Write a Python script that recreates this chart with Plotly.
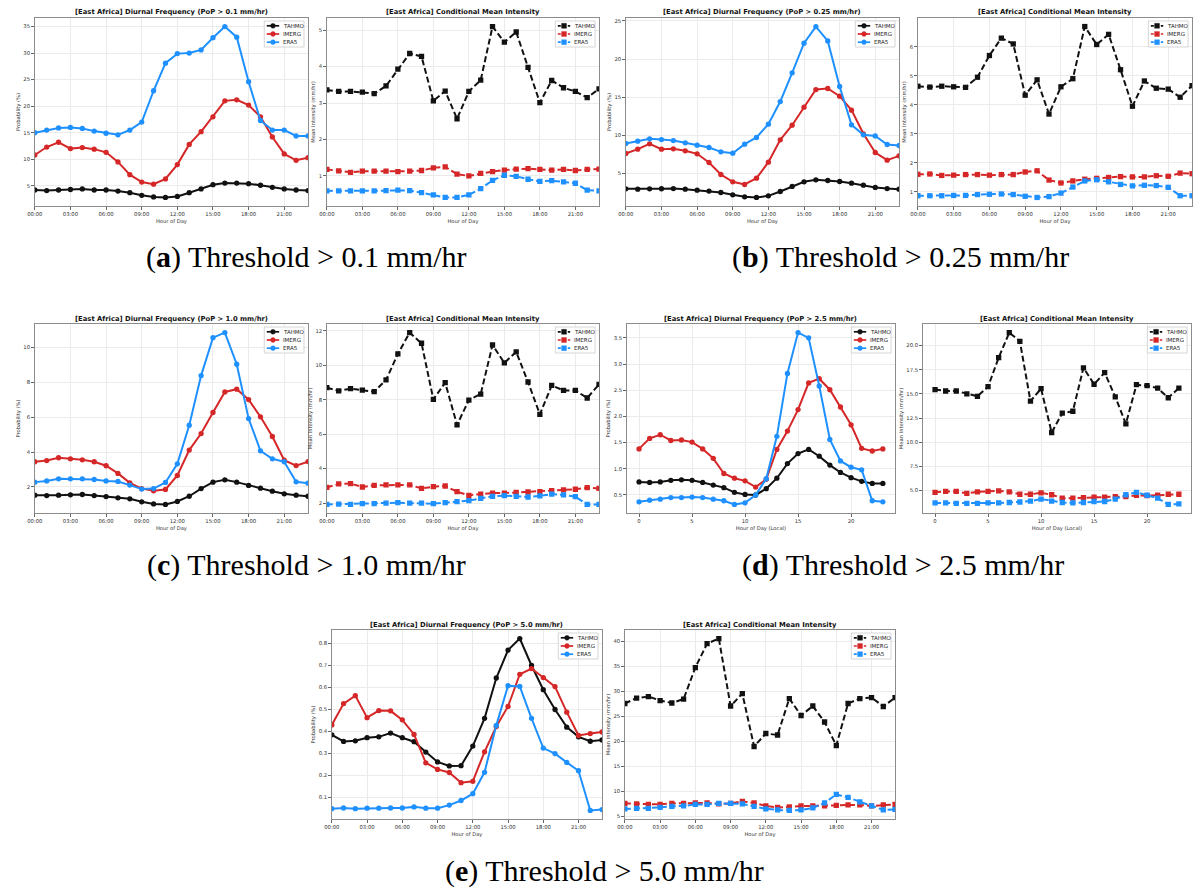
import plotly.graph_objects as go

W, H = 1200, 894
HOURS = list(range(24))
SOURCES = ["TAHMO", "IMERG", "ERA5"]
COLORS = ["#111111", "#d62728", "#1e90ff"]
CLOCK_TICKS = [0, 3, 6, 9, 12, 15, 18, 21]
CLOCK_LABELS = ["00:00", "03:00", "06:00", "09:00", "12:00", "15:00", "18:00", "21:00"]
NUM_TICKS = [0, 5, 10, 15, 20]

# ---------------- (a) threshold > 0.1 mm/hr ----------------
a_freq_tahmo = [4.2, 4.1, 4.2, 4.3, 4.4, 4.2, 4.2, 4.0, 3.7, 3.2, 2.9, 2.8, 3.0, 3.7, 4.4, 5.2, 5.5, 5.5, 5.4, 5.1, 4.7, 4.4, 4.2, 4.1]
a_freq_imerg = [10.8, 12.3, 13.2, 12.0, 12.2, 11.9, 11.3, 9.5, 7.1, 5.7, 5.3, 6.3, 9.0, 12.8, 15.2, 18.0, 21.0, 21.2, 20.2, 18.0, 14.2, 11.0, 9.8, 10.3]
a_freq_era5 = [15.0, 15.5, 15.9, 16.0, 15.8, 15.3, 14.9, 14.6, 15.5, 17.0, 22.9, 28.1, 29.9, 30.0, 30.6, 32.9, 35.0, 33.0, 24.6, 17.3, 15.5, 15.5, 14.4, 14.4]
a_int_tahmo = [3.36, 3.32, 3.32, 3.30, 3.26, 3.47, 3.93, 4.36, 4.28, 3.06, 3.33, 2.57, 3.32, 3.63, 5.10, 4.67, 4.95, 3.98, 3.01, 3.62, 3.42, 3.32, 3.15, 3.39]
a_int_imerg = [1.18, 1.14, 1.10, 1.13, 1.13, 1.13, 1.12, 1.13, 1.15, 1.22, 1.25, 1.05, 1.00, 1.07, 1.12, 1.16, 1.19, 1.20, 1.18, 1.16, 1.18, 1.15, 1.18, 1.19]
a_int_era5 = [0.59, 0.59, 0.59, 0.59, 0.59, 0.60, 0.61, 0.60, 0.54, 0.48, 0.41, 0.41, 0.48, 0.65, 0.88, 1.02, 0.99, 0.91, 0.85, 0.87, 0.84, 0.80, 0.61, 0.59]

# ---------------- (b) threshold > 0.25 mm/hr ----------------
b_freq_tahmo = [2.99, 2.95, 2.99, 3.00, 3.03, 2.95, 2.82, 2.69, 2.51, 2.21, 1.94, 1.86, 2.07, 2.64, 3.30, 3.91, 4.17, 4.08, 3.95, 3.73, 3.47, 3.17, 3.03, 2.95]
b_freq_imerg = [7.62, 8.19, 8.89, 8.19, 8.23, 7.97, 7.58, 6.44, 4.87, 3.91, 3.56, 4.39, 6.48, 9.41, 11.33, 13.69, 16.00, 16.14, 15.13, 13.30, 10.20, 7.75, 6.75, 7.31]
b_freq_era5 = [8.93, 9.24, 9.54, 9.45, 9.32, 9.02, 8.71, 8.41, 7.84, 7.66, 8.84, 9.72, 11.46, 14.43, 18.19, 22.07, 24.26, 22.38, 16.40, 11.38, 10.07, 9.93, 8.80, 8.67]
b_int_tahmo = [4.64, 4.61, 4.64, 4.62, 4.60, 4.95, 5.70, 6.30, 6.10, 4.33, 4.86, 3.68, 4.62, 4.90, 6.70, 6.08, 6.43, 5.21, 3.95, 4.82, 4.57, 4.54, 4.26, 4.66]
b_int_imerg = [1.60, 1.61, 1.56, 1.57, 1.59, 1.59, 1.57, 1.59, 1.59, 1.68, 1.72, 1.40, 1.30, 1.37, 1.43, 1.46, 1.49, 1.52, 1.51, 1.51, 1.55, 1.53, 1.64, 1.62]
b_int_era5 = [0.86, 0.86, 0.86, 0.87, 0.87, 0.90, 0.91, 0.92, 0.90, 0.84, 0.80, 0.83, 0.95, 1.16, 1.37, 1.41, 1.34, 1.25, 1.20, 1.22, 1.21, 1.15, 0.86, 0.86]

# ---------------- (c) threshold > 1.0 mm/hr ----------------
c_freq_tahmo = [1.52, 1.50, 1.52, 1.54, 1.56, 1.50, 1.44, 1.37, 1.31, 1.14, 1.02, 0.99, 1.16, 1.46, 1.90, 2.27, 2.40, 2.27, 2.08, 1.92, 1.75, 1.60, 1.52, 1.46]
c_freq_imerg = [3.44, 3.51, 3.67, 3.61, 3.55, 3.44, 3.21, 2.77, 2.23, 1.90, 1.77, 1.85, 2.65, 4.11, 5.06, 6.27, 7.45, 7.61, 7.01, 6.02, 4.89, 3.53, 3.22, 3.45]
c_freq_era5 = [2.27, 2.34, 2.46, 2.46, 2.46, 2.42, 2.34, 2.31, 2.10, 1.87, 1.90, 2.25, 3.32, 5.54, 8.39, 10.57, 10.86, 9.04, 5.92, 4.07, 3.61, 3.44, 2.29, 2.21]
c_int_tahmo = [8.70, 8.52, 8.64, 8.56, 8.47, 9.15, 10.66, 11.90, 11.28, 8.02, 8.99, 6.54, 7.98, 8.33, 11.18, 10.14, 10.78, 9.03, 7.15, 8.83, 8.54, 8.54, 8.10, 8.89]
c_int_imerg = [2.91, 3.11, 3.13, 2.93, 3.03, 3.05, 3.05, 3.05, 2.85, 2.95, 2.99, 2.66, 2.45, 2.52, 2.58, 2.58, 2.62, 2.64, 2.66, 2.72, 2.76, 2.80, 2.89, 2.85]
c_int_era5 = [1.92, 1.94, 1.92, 1.96, 1.96, 2.00, 2.02, 2.00, 2.00, 1.96, 2.02, 2.08, 2.14, 2.27, 2.39, 2.43, 2.39, 2.35, 2.41, 2.52, 2.47, 2.37, 1.92, 1.92]

# ---------------- (d) threshold > 2.5 mm/hr ----------------
d_freq_tahmo = [0.75, 0.74, 0.75, 0.78, 0.79, 0.78, 0.74, 0.69, 0.64, 0.55, 0.51, 0.50, 0.62, 0.82, 1.10, 1.29, 1.37, 1.24, 1.07, 0.93, 0.83, 0.76, 0.72, 0.72]
d_freq_imerg = [1.38, 1.58, 1.65, 1.54, 1.55, 1.51, 1.38, 1.20, 0.91, 0.82, 0.77, 0.65, 0.80, 1.37, 1.72, 2.13, 2.64, 2.72, 2.51, 2.18, 1.84, 1.39, 1.34, 1.38]
d_freq_era5 = [0.37, 0.40, 0.42, 0.45, 0.45, 0.46, 0.45, 0.42, 0.39, 0.32, 0.35, 0.50, 0.81, 1.62, 2.82, 3.60, 3.50, 2.58, 1.56, 1.15, 1.03, 0.98, 0.39, 0.37]
d_int_tahmo = [15.45, 15.30, 15.30, 15.00, 14.75, 15.75, 18.75, 21.35, 20.45, 14.25, 15.55, 11.00, 13.00, 13.20, 17.70, 16.00, 17.20, 14.70, 11.90, 15.95, 15.85, 15.60, 14.60, 15.60]
d_int_imerg = [4.80, 4.90, 4.90, 4.70, 4.85, 4.90, 4.95, 4.85, 4.60, 4.60, 4.75, 4.55, 4.20, 4.20, 4.25, 4.30, 4.30, 4.35, 4.35, 4.50, 4.45, 4.50, 4.60, 4.60]
d_int_era5 = [3.70, 3.70, 3.65, 3.65, 3.65, 3.70, 3.70, 3.75, 3.80, 3.90, 4.10, 3.90, 3.75, 3.70, 3.75, 3.85, 3.85, 4.10, 4.55, 4.80, 4.50, 4.20, 3.55, 3.60]

# ---------------- (e) threshold > 5.0 mm/hr ----------------
e_freq_tahmo = [0.385, 0.355, 0.358, 0.372, 0.376, 0.393, 0.372, 0.354, 0.307, 0.262, 0.244, 0.245, 0.334, 0.460, 0.643, 0.770, 0.822, 0.700, 0.590, 0.500, 0.420, 0.376, 0.356, 0.362]
e_freq_imerg = [0.430, 0.527, 0.563, 0.463, 0.495, 0.494, 0.453, 0.387, 0.258, 0.228, 0.214, 0.168, 0.174, 0.308, 0.423, 0.514, 0.660, 0.686, 0.645, 0.604, 0.488, 0.382, 0.391, 0.398]
e_freq_era5 = [0.050, 0.053, 0.050, 0.052, 0.052, 0.053, 0.053, 0.058, 0.052, 0.052, 0.066, 0.087, 0.118, 0.215, 0.428, 0.608, 0.605, 0.460, 0.325, 0.300, 0.260, 0.222, 0.042, 0.046]
e_int_tahmo = [27.6, 28.7, 29.0, 28.2, 27.7, 28.5, 34.8, 39.6, 40.6, 27.1, 29.6, 19.0, 21.6, 21.3, 28.6, 25.2, 27.1, 23.9, 19.2, 27.6, 28.6, 28.8, 27.0, 28.8]
e_int_imerg = [7.6, 7.5, 7.4, 7.4, 7.6, 7.6, 7.7, 7.7, 7.5, 7.6, 8.0, 7.7, 7.1, 6.8, 6.9, 7.1, 7.1, 7.1, 7.2, 7.3, 7.3, 7.1, 7.3, 7.4]
e_int_era5 = [6.5, 6.6, 6.6, 6.8, 7.0, 7.1, 7.4, 7.4, 7.6, 7.6, 7.5, 7.0, 6.5, 6.3, 6.2, 6.3, 6.7, 7.7, 9.4, 8.8, 7.9, 7.1, 6.3, 6.4]

FREQ_TITLE = "[East Africa] Diurnal Frequency (PoP > {} mm/hr)"
INT_TITLE = "[East Africa] Conditional Mean Intensity"
CAPTIONS = [("a", "0.1"), ("b", "0.25"), ("c", "1.0"), ("d", "2.5"), ("e", "5.0")]

# panel layout: plot-area boxes in pixels (x0, y0, x1, y1)
panels = [
    dict(data=[a_freq_tahmo, a_freq_imerg, a_freq_era5], kind="freq", thr="0.1", box=(27, 18, 302, 206), dtick=5, fmt="", clock=True),
    dict(data=[a_int_tahmo, a_int_imerg, a_int_era5], kind="int", box=(321, 18, 595, 206), dtick=1, fmt="", clock=True),
    dict(data=[b_freq_tahmo, b_freq_imerg, b_freq_era5], kind="freq", thr="0.25", box=(622, 18, 897, 206), dtick=5, fmt="", clock=True),
    dict(data=[b_int_tahmo, b_int_imerg, b_int_era5], kind="int", box=(916, 18, 1192, 206), dtick=1, fmt="", clock=True),
    dict(data=[c_freq_tahmo, c_freq_imerg, c_freq_era5], kind="freq", thr="1.0", box=(27, 324, 302, 513), dtick=2, fmt="", clock=True),
    dict(data=[c_int_tahmo, c_int_imerg, c_int_era5], kind="int", box=(321, 324, 595, 513), dtick=2, fmt="", clock=True),
    dict(data=[d_freq_tahmo, d_freq_imerg, d_freq_era5], kind="freq", thr="2.5", box=(623, 324, 893, 513), dtick=0.5, fmt=".1f", clock=False),
    dict(data=[d_int_tahmo, d_int_imerg, d_int_era5], kind="int", box=(921, 324, 1191, 513), dtick=2.5, fmt=".1f", clock=False),
    dict(data=[e_freq_tahmo, e_freq_imerg, e_freq_era5], kind="freq", thr="5.0", box=(326, 630, 598, 819), dtick=0.1, fmt=".1f", clock=True),
    dict(data=[e_int_tahmo, e_int_imerg, e_int_era5], kind="int", box=(621, 630, 893, 819), dtick=5, fmt="", clock=True),
]


def px(x):
    return x / W


def py(y):
    return 1 - y / H


fig = go.Figure()
AX_FONT = dict(family="DejaVu Sans", size=5.3, color="#333333")
TITLE_FONT = dict(family="DejaVu Sans", size=5.2, color="#333333")

for i, p in enumerate(panels, start=1):
    sfx = "" if i == 1 else str(i)
    xs, ys = "x" + sfx, "y" + sfx
    freq = p["kind"] == "freq"
    for name, color, vals in zip(SOURCES, COLORS, p["data"]):
        fig.add_trace(go.Scatter(
            x=HOURS, y=vals, mode="lines+markers", name=name, showlegend=False,
            line=dict(color=color, width=2, dash="solid" if freq else "6px,3px"),
            marker=dict(symbol="circle" if freq else "square", size=5.3, color=color),
            xaxis=xs, yaxis=ys))
    allv = [v for s in p["data"] for v in s]
    lo, hi = min(allv), max(allv)
    pad = 0.05 * (hi - lo)
    x0, y0, x1, y1 = p["box"]
    common = dict(showline=True, mirror=True, linecolor="#8c8c8c", linewidth=1.3,
                  showgrid=True, gridcolor="#ebebeb", gridwidth=0.7, zeroline=False,
                  ticks="outside", ticklen=2.5, tickwidth=0.8, tickcolor="#666666",
                  tickfont=AX_FONT)
    if p["clock"]:
        xa = dict(range=[0, 23], tickmode="array", tickvals=CLOCK_TICKS, ticktext=CLOCK_LABELS,
                  title=dict(text="Hour of Day", font=TITLE_FONT, standoff=3))
    else:
        xpad = 0.05 * 23
        xa = dict(range=[-xpad, 23 + xpad], tickmode="array", tickvals=NUM_TICKS,
                  title=dict(text="Hour of Day (Local)", font=TITLE_FONT, standoff=3))
    xa.update(common)
    xa.update(domain=[px(x0), px(x1)], anchor=ys)
    ya = dict(range=[lo - pad, hi + pad], dtick=p["dtick"], tick0=0, tickformat=p["fmt"],
              title=dict(text="Probability (%)" if freq else "Mean Intensity (mm/hr)", font=TITLE_FONT, standoff=2))
    ya.update(common)
    ya.update(domain=[py(y1), py(y0)], anchor=xs)
    fig.update_layout({"xaxis" + sfx: xa, "yaxis" + sfx: ya})

    # subplot title
    title = FREQ_TITLE.format(p["thr"]) if freq else INT_TITLE
    fig.add_annotation(x=px((x0 + x1) / 2), y=py(y0 - 5.5), xref="paper", yref="paper",
                       text="<b>" + title + "</b>", showarrow=False, xanchor="center", yanchor="middle",
                       font=dict(family="DejaVu Sans", size=6.8, color="#111111"))

    # legend box (upper right)
    bw, bh = 40, 26
    bx1 = x1 - 4
    bx0 = bx1 - bw
    by0 = y0 + 3
    by1 = by0 + bh
    fig.add_shape(type="rect", xref="paper", yref="paper", x0=px(bx0), x1=px(bx1), y0=py(by1), y1=py(by0),
                  line=dict(color="#cccccc", width=0.8), fillcolor="rgba(255,255,255,0.85)", layer="above")
    for k, (name, color) in enumerate(zip(SOURCES, COLORS)):
        cy = by0 + 4.8 + 8.2 * k
        lx0, lx1 = bx0 + 2.5, bx0 + 15
        fig.add_shape(type="line", xref="paper", yref="paper", x0=px(lx0), x1=px(lx1), y0=py(cy), y1=py(cy),
                      line=dict(color=color, width=1.7, dash="solid" if freq else "3px,2px"), layer="above")
        cx, r = (lx0 + lx1) / 2, 2.4
        fig.add_shape(type="circle" if freq else "rect", xref="paper", yref="paper",
                      x0=px(cx - r), x1=px(cx + r), y0=py(cy + r), y1=py(cy - r),
                      fillcolor=color, line=dict(color=color, width=0.5), layer="above")
        fig.add_annotation(x=px(bx0 + 17), y=py(cy), xref="paper", yref="paper", text=name,
                           showarrow=False, xanchor="left", yanchor="middle",
                           font=dict(family="DejaVu Sans", size=5.5, color="#222222"))

# captions
CAP_POS = [(301, 257), (898, 257), (301, 565), (901, 565), (600, 871)]
for (letter, thr), (cx, cy) in zip(CAPTIONS, CAP_POS):
    fig.add_annotation(x=px(cx), y=py(cy), xref="paper", yref="paper",
                       text="(<b>" + letter + "</b>) Threshold &gt; " + thr + " mm/hr",
                       showarrow=False, xanchor="center", yanchor="middle",
                       font=dict(family="Liberation Serif", size=30, color="#000000"))

fig.update_layout(width=W, height=H, margin=dict(l=0, r=0, t=0, b=0),
                  paper_bgcolor="white", plot_bgcolor="white", showlegend=False,
                  font=dict(family="DejaVu Sans"))

fig.write_html("out.html")
